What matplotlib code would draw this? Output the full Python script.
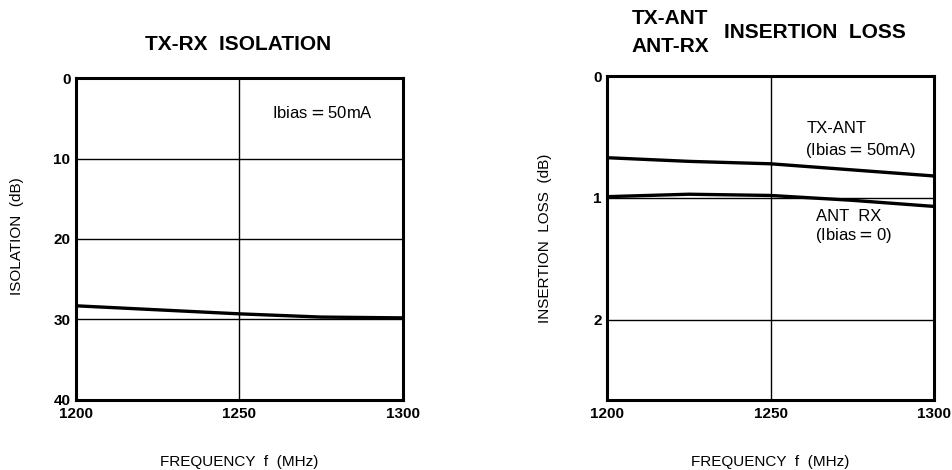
import numpy as np
import matplotlib
matplotlib.use("Agg")
import matplotlib.pyplot as plt

plt.rcParams['font.family'] = ['Liberation Sans', 'DejaVu Sans']

# values
freq = [1200, 1225, 1250, 1275, 1300]
isolation = [28.3, 28.8, 29.3, 29.7, 29.8]
tx_ant = [0.67, 0.70, 0.72, 0.77, 0.82]
ant_rx = [0.99, 0.97, 0.98, 1.02, 1.07]

x_ticks = [1200, 1250, 1300]
iso_ticks = [0, 10, 20, 30, 40]
loss_ticks = [0, 1, 2]

fig = plt.figure(figsize=(9.53, 4.70), dpi=100)
ax1 = fig.add_axes([0.0797, 0.149, 0.343, 0.685])
ax2 = fig.add_axes([0.637, 0.149, 0.343, 0.689])


def style(ax, ylabel):
    for sp in ax.spines.values():
        sp.set_linewidth(2.2)
    ax.tick_params(length=0, labelsize=11)
    ax.tick_params(axis='x', pad=5)
    ax.tick_params(axis='y', pad=4)
    ax.set_xticks(x_ticks)
    ax.set_xlim(1200, 1300)
    ax.axvline(1250, color='k', lw=1)
    ax.set_xlabel('FREQUENCY  f  (MHz)', fontsize=11, va='center')
    ax.xaxis.set_label_coords(0.5, -0.193)
    ax.set_ylabel(ylabel, fontsize=11, va='center')
    for lab in ax.get_xticklabels() + ax.get_yticklabels():
        lab.set_fontweight('bold')


# left: isolation
ax1.set_ylim(40, 0)
ax1.set_yticks(iso_ticks)
for v in iso_ticks[1:-1]:
    ax1.axhline(v, color='k', lw=1)
ax1.plot(freq, isolation, color='k', lw=2.4, solid_capstyle='butt')
style(ax1, 'ISOLATION  (dB)')
ax1.yaxis.set_label_coords(-0.18, 0.51)
ax1.text(1260, 4.4, 'Ibias$=$50mA', fontsize=12, va='center')
fig.text(238 / 953, 1 - 45 / 470, 'TX-RX  ISOLATION', fontsize=15,
         fontweight='bold', ha='center', va='center')

# right: insertion loss
ax2.set_ylim(2.66, 0)
ax2.set_yticks(loss_ticks)
for v in loss_ticks[1:]:
    ax2.axhline(v, color='k', lw=1)
ax2.plot(freq, tx_ant, color='k', lw=2.4, solid_capstyle='butt')
ax2.plot(freq, ant_rx, color='k', lw=2.4, solid_capstyle='butt')
style(ax2, 'INSERTION  LOSS  (dB)')
ax2.yaxis.set_label_coords(-0.19, 0.5)
ax2.text(1261, 0.43, 'TX-ANT', fontsize=12, va='center')
ax2.text(1260.5, 0.61, '(Ibias$=$50mA)', fontsize=12, va='center')
ax2.text(1264, 1.15, 'ANT  RX', fontsize=12, va='center')
ax2.text(1263.5, 1.31, '(Ibias$=$0)', fontsize=12, va='center')
fig.text(670 / 953, 1 - 18 / 470, 'TX-ANT', fontsize=15, fontweight='bold',
         ha='center', va='center')
fig.text(670 / 953, 1 - 47 / 470, 'ANT-RX', fontsize=15, fontweight='bold',
         ha='center', va='center')
fig.text(815 / 953, 1 - 33 / 470, 'INSERTION  LOSS', fontsize=15,
         fontweight='bold', ha='center', va='center')

fig.savefig('out.png', dpi=100, facecolor='white')
